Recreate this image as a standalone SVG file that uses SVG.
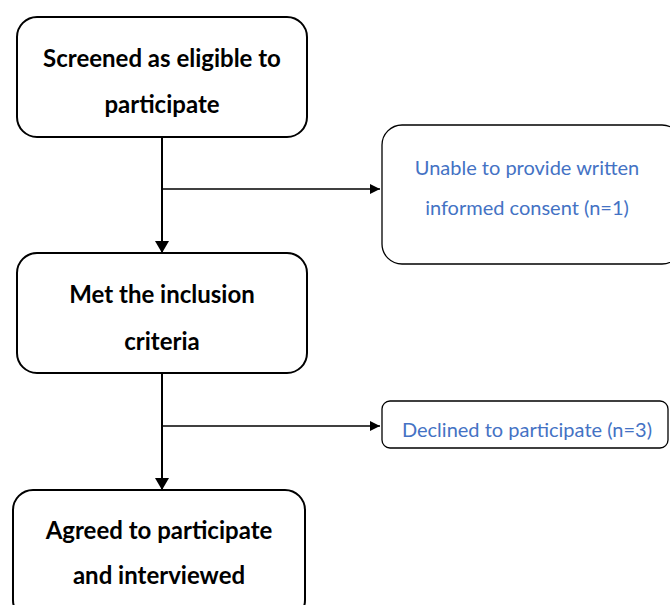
<svg xmlns="http://www.w3.org/2000/svg" width="670" height="605" viewBox="0 0 670 605">
<defs>
<marker id="ah" markerWidth="10" markerHeight="10" refX="10" refY="5" orient="auto" markerUnits="userSpaceOnUse">
<path d="M0,0 L10,5 L0,10 Z" fill="#000"/>
</marker>
<marker id="ahv" markerWidth="12" markerHeight="14" refX="12" refY="7" orient="auto" markerUnits="userSpaceOnUse">
<path d="M0,0 L12,7 L0,14 Z" fill="#000"/>
</marker>
</defs>
<style>
.main{fill:#fff;stroke:#000;stroke-width:2}
.side{fill:#fff;stroke:#000;stroke-width:1.3}
.mt{font-family:Lato,"Liberation Sans",sans-serif;font-weight:bold;font-size:24px;fill:#000;text-anchor:middle}
.st{font-family:Lato,"Liberation Sans",sans-serif;font-size:20px;fill:#4472C4;text-anchor:middle}
.ln{stroke:#000;fill:none}
</style>
<rect width="670" height="605" fill="#fff"/>
<g id="connectors">
<line class="ln" x1="162" y1="137" x2="162" y2="253" stroke-width="2" marker-end="url(#ahv)"/>
<line class="ln" x1="162" y1="189" x2="380" y2="189" stroke-width="1.3" marker-end="url(#ah)"/>
<line class="ln" x1="162" y1="373" x2="162" y2="490" stroke-width="2" marker-end="url(#ahv)"/>
<line class="ln" x1="162" y1="426" x2="380" y2="426" stroke-width="1.3" marker-end="url(#ah)"/>
</g>
<g id="n1">
<rect class="main" x="17" y="17" width="290" height="120" rx="20"/>
<text class="mt" x="162" y="67">Screened as eligible to</text>
<text class="mt" x="162" y="113">participate</text>
</g>
<g id="n2">
<rect class="side" x="382" y="125" width="300" height="139" rx="20"/>
<text class="st" x="527" y="175">Unable to provide written</text>
<text class="st" x="527" y="215">informed consent (n=1)</text>
</g>
<g id="n3">
<rect class="main" x="17" y="253" width="290" height="120" rx="20"/>
<text class="mt" x="162" y="303">Met the inclusion</text>
<text class="mt" x="162" y="350">criteria</text>
</g>
<g id="n4">
<rect class="side" x="382" y="401" width="286" height="47" rx="8"/>
<text class="st" x="527" y="437">Declined to participate (n=3)</text>
</g>
<g id="n5">
<rect class="main" x="13" y="490" width="292" height="130" rx="20"/>
<text class="mt" x="159" y="539">Agreed to participate</text>
<text class="mt" x="159" y="584">and interviewed</text>
</g>
</svg>
